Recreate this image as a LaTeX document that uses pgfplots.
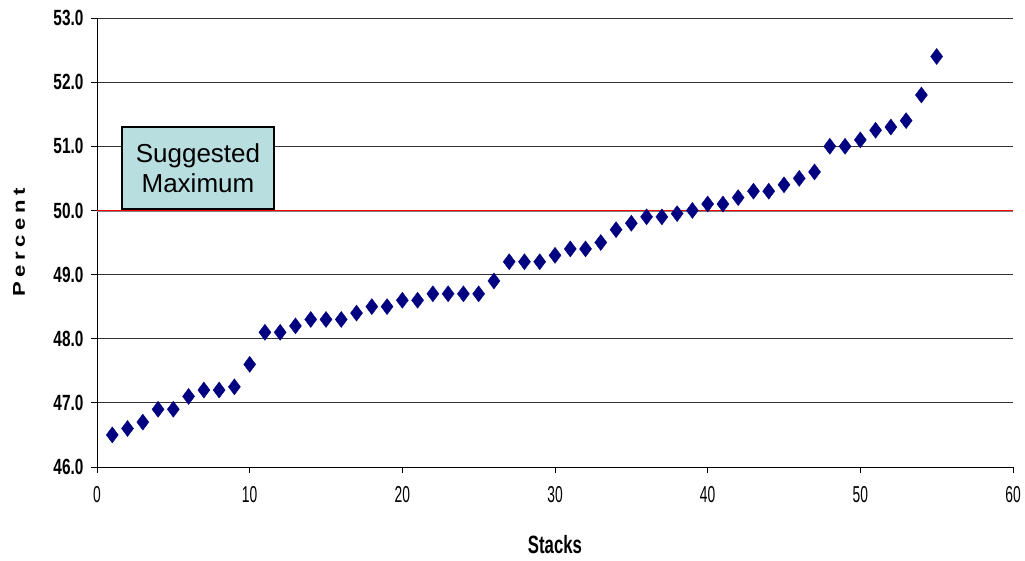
\documentclass[border=0pt]{standalone}
\usepackage{fontspec}
\setmainfont{Liberation Sans}
\newfontfamily\ytickfont[FakeStretch=0.7]{Liberation Sans}
\newfontfamily\xtickfont[FakeStretch=0.6]{Liberation Sans}
\newfontfamily\stacksfont[FakeStretch=0.67]{Liberation Sans}
\newfontfamily\widefont[FakeStretch=1.3]{Liberation Sans}
\usepackage{pgfplots}
\pgfplotsset{compat=1.18}
\definecolor{navy}{RGB}{0,0,128}
\definecolor{boxfill}{RGB}{184,222,224}
\newcommand{\lsp}{\hspace{4.5pt}}
\begin{document}
\begin{tikzpicture}
\begin{axis}[
  width=916pt, height=449pt, scale only axis,
  xmin=0, xmax=60, ymin=46, ymax=53,
  xtick={0,10,...,60}, ytick={46,47,...,53},
  axis x line=bottom, axis y line=left,
  axis line style={-, black, line width=0.9pt},
  tick align=outside, major tick length=6pt,
  tick style={black, line width=0.8pt},
  ymajorgrids, grid style={black!80, line width=0.8pt},
  /pgf/number format/assume math mode=true,
  yticklabel style={font=\ytickfont\bfseries\fontsize{22}{22}\selectfont, xshift=-4pt, /pgf/number format/.cd, fixed, fixed zerofill, precision=1},
  xticklabel style={font=\xtickfont\fontsize{23}{23}\selectfont, yshift=-10pt},
  xlabel={Stacks}, ylabel={P\lsp e\lsp r\lsp c\lsp e\lsp n\lsp t},
  xlabel style={font=\stacksfont\bfseries\fontsize{25}{25}\selectfont, at={(axis description cs:0.5,0)}, anchor=center, yshift=-78pt},
  ylabel style={font=\widefont\bfseries\fontsize{17}{17}\selectfont, at={(axis description cs:0,0.5)}, anchor=center, rotate=0, yshift=78pt},
  clip=false,
]
\addplot[gray, line width=1.6pt, forget plot] coordinates {(0,49.995) (60,49.995)};
\addplot[red, line width=1pt, forget plot] coordinates {(0,50.0) (60,50.0)};
\addplot[only marks, mark=diamond*, mark size=8pt, mark options={fill=navy, draw=navy}] coordinates {
(1,46.5) (2,46.6) (3,46.7) (4,46.9) (5,46.9) (6,47.1) (7,47.2) (8,47.2) (9,47.25) (10,47.6)
(11,48.1) (12,48.1) (13,48.2) (14,48.3) (15,48.3) (16,48.3) (17,48.4) (18,48.5) (19,48.5) (20,48.6)
(21,48.6) (22,48.7) (23,48.7) (24,48.7) (25,48.7) (26,48.9) (27,49.2) (28,49.2) (29,49.2) (30,49.3)
(31,49.4) (32,49.4) (33,49.5) (34,49.7) (35,49.8) (36,49.9) (37,49.9) (38,49.95) (39,50.0) (40,50.1)
(41,50.1) (42,50.2) (43,50.3) (44,50.3) (45,50.4) (46,50.5) (47,50.6) (48,51.0) (49,51.0) (50,51.1)
(51,51.25) (52,51.3) (53,51.4) (54,51.8) (55,52.4)
};
\node[draw=black, line width=2pt, fill=boxfill, anchor=south west, minimum width=152pt, minimum height=82pt, inner sep=0pt, align=center, font=\fontsize{26}{30}\selectfont] at (axis cs:1.57,50.0) {Suggested\\Maximum};
\end{axis}
\useasboundingbox (-97pt,-93pt) rectangle (928pt,467pt);
\end{tikzpicture}
\end{document}
